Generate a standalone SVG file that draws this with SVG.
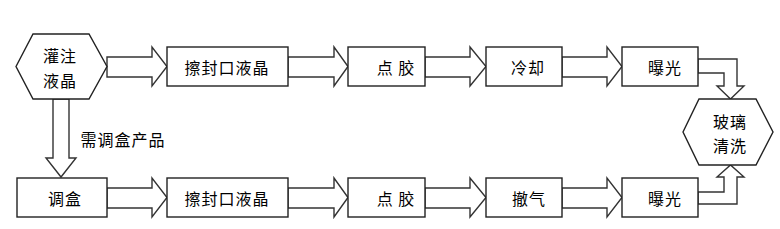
<svg xmlns="http://www.w3.org/2000/svg" width="780" height="229" viewBox="0 0 780 229">
<style>
.s{fill:#fff;stroke:#222;stroke-width:1.4;stroke-linejoin:miter}
.a{fill:#fff;stroke:#333;stroke-width:1.4;stroke-linejoin:miter}
text{font-family:"Noto Sans CJK SC","Noto Sans",sans-serif;font-size:16px;fill:#000;text-anchor:middle;dominant-baseline:central;letter-spacing:1px}
</style>
<rect width="780" height="229" fill="#fff"/>
<g id="connectors">
<polygon class="a" points="107,57 152,57 152,47 167,66.5 152,86 152,77 107,77"/>
<polygon class="a" points="288,57 334,57 334,47 348,66.5 334,86 334,77 288,77"/>
<polygon class="a" points="425,57 470,57 470,47 486,66.5 470,86 470,77 425,77"/>
<polygon class="a" points="562,57 607,57 607,47 622,66.5 607,86 607,77 562,77"/>
<polygon class="a" points="107,188 152,188 152,178 167,197.5 152,217 152,208 107,208"/>
<polygon class="a" points="288,188 334,188 334,178 348,197.5 334,217 334,208 288,208"/>
<polygon class="a" points="425,188 470,188 470,178 486,197.5 470,217 470,208 425,208"/>
<polygon class="a" points="562,188 607,188 607,178 622,197.5 607,217 607,208 562,208"/>
<polygon class="a" points="53,99 69,99 69,158 76,158 61,177 46,158 53,158"/>
<polygon class="a" points="698,59 737,59 737,86 744,86 730.5,99 717,86 724,86 724,73 698,73"/>
<polygon class="a" points="698,204 737,204 737,177 744,177 730.5,165 717,177 724,177 724,192 698,192"/>
<text x="123" y="139">需调盒产品</text>
</g>
<g id="n-fill">
<polygon class="s" points="16,66.5 33,34 89,34 107,66.5 89,99 33,99"/>
<text x="60" y="55">灌注</text>
<text x="60" y="80">液晶</text>
</g>
<g id="n-wipe1">
<rect class="s" x="167" y="47" width="121" height="39"/>
<text x="227" y="67">擦封口液晶</text>
</g>
<g id="n-glue1">
<rect class="s" x="348" y="47" width="77" height="39"/>
<text x="396" y="67">点 胶</text>
</g>
<g id="n-cool">
<rect class="s" x="486" y="47" width="76" height="39"/>
<text x="528" y="67">冷却</text>
</g>
<g id="n-expose1">
<rect class="s" x="622" y="47" width="76" height="39"/>
<text x="665" y="67">曝光</text>
</g>
<g id="n-box">
<rect class="s" x="17" y="178" width="90" height="39"/>
<text x="65" y="198">调盒</text>
</g>
<g id="n-wipe2">
<rect class="s" x="167" y="178" width="121" height="39"/>
<text x="227" y="198">擦封口液晶</text>
</g>
<g id="n-glue2">
<rect class="s" x="348" y="178" width="77" height="39"/>
<text x="396" y="198">点 胶</text>
</g>
<g id="n-degas">
<rect class="s" x="486" y="178" width="76" height="39"/>
<text x="529" y="198">撤气</text>
</g>
<g id="n-expose2">
<rect class="s" x="622" y="178" width="76" height="39"/>
<text x="665" y="198">曝光</text>
</g>
<g id="n-clean">
<polygon class="s" points="683,132 699,99 756,99 773,132 756,165 699,165"/>
<text x="730" y="121">玻璃</text>
<text x="730" y="145">清洗</text>
</g>
</svg>
